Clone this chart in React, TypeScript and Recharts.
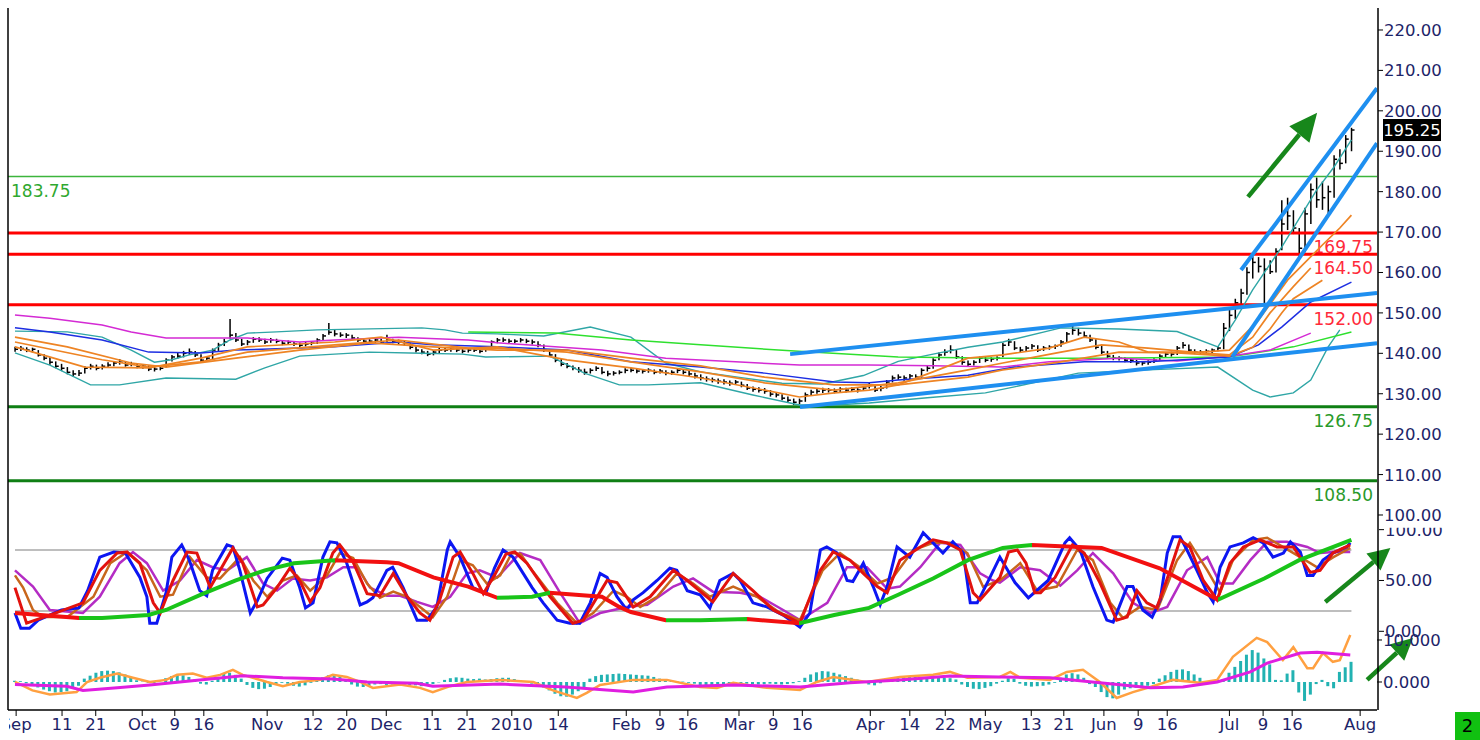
import React from 'react';
import { ComposedChart, Line, Bar, XAxis, YAxis, ReferenceLine } from 'recharts';

// daily bars, index 0 = first bar (early Sep), [high, low, close]
const ohlc: number[][] = [
  [141.6,140.4,141.0],[141.8,140.6,141.2],[141.5,140.3,140.8],[141.4,140.2,141.0],[140.8,139.2,139.6],
  [139.8,138.3,138.8],[139.0,137.2,137.8],[138.0,136.3,136.8],[137.4,135.6,136.3],[136.6,134.8,135.3],
  [135.8,134.2,134.9],[135.9,134.4,135.1],[136.8,135.0,136.3],[137.4,136.0,136.8],[137.2,135.8,136.3],
  [137.3,136.0,136.8],[137.8,136.5,137.1],[138.0,136.8,137.6],[138.6,137.2,137.8],[138.0,136.7,137.1],
  [137.9,136.8,137.3],[137.6,136.3,136.8],[137.3,136.2,136.8],[137.0,135.6,136.1],[136.6,135.5,136.1],
  [137.0,135.8,136.3],[138.8,136.5,138.3],[139.6,138.0,139.1],[140.1,138.7,139.3],[140.6,139.0,140.0],
  [141.2,139.6,140.3],[140.6,139.1,139.6],[139.8,137.8,138.3],[139.3,137.9,138.8],[141.2,138.6,140.8],
  [142.6,140.6,142.0],[143.6,141.8,142.8],[148.5,143.6,144.5],[145.0,142.8,143.3],[143.6,141.8,142.3],
  [143.3,142.0,142.8],[144.0,142.6,143.5],[144.0,142.8,143.3],[143.6,142.3,142.8],[143.8,142.6,143.3],
  [143.6,142.5,143.0],[143.3,142.0,142.5],[143.2,142.2,142.8],[143.0,141.8,142.3],[142.7,141.5,142.0],
  [142.8,141.7,142.3],[143.0,142.0,142.5],[143.7,142.3,143.3],[144.8,143.2,144.3],[147.5,144.6,145.2],
  [146.0,144.2,144.8],[145.2,144.0,144.5],[145.0,143.8,144.5],[144.6,143.3,143.8],[144.0,142.8,143.3],
  [143.6,142.5,143.0],[143.5,142.4,143.0],[143.8,142.6,143.3],[143.6,142.3,142.8],[144.6,142.8,143.3],
  [143.6,142.5,143.0],[143.4,142.2,142.8],[143.2,141.9,142.5],[142.6,141.0,141.5],[141.7,140.2,140.8],
  [141.0,139.8,140.3],[140.6,139.3,139.8],[140.8,139.5,140.3],[141.3,140.0,140.8],[141.5,140.3,140.8],
  [141.5,140.4,141.0],[141.4,140.3,140.8],[141.1,140.0,140.5],[141.3,140.2,140.8],[141.2,140.3,140.8],
  [141.2,140.0,140.5],[141.8,140.4,141.3],[143.2,141.2,142.8],[143.8,142.5,143.3],[143.9,142.8,143.3],
  [143.6,142.4,143.0],[143.5,142.5,143.0],[143.8,142.7,143.3],[143.6,142.5,143.0],[143.4,142.2,142.8],
  [143.0,141.5,142.0],[142.2,140.3,140.8],[141.0,139.1,139.6],[139.8,137.8,138.3],[138.6,136.8,137.3],
  [137.6,136.3,136.8],[137.0,135.8,136.3],[136.6,135.2,135.8],[136.2,134.7,135.3],[136.3,135.0,135.8],
  [136.8,135.6,136.3],[136.6,134.8,135.3],[135.7,134.3,134.9],[135.6,134.5,135.1],[135.8,134.8,135.3],
  [136.3,135.1,135.8],[136.4,135.3,135.8],[136.1,135.1,135.6],[136.0,135.0,135.6],[136.3,135.2,135.8],
  [136.0,134.8,135.3],[136.1,135.0,135.6],[135.8,134.6,135.1],[135.8,134.7,135.3],[136.3,135.1,135.8],
  [136.0,134.8,135.3],[135.6,134.3,134.9],[135.2,133.8,134.4],[134.8,133.3,133.9],[134.3,133.0,133.6],
  [134.0,132.8,133.4],[133.8,132.5,133.1],[133.6,132.3,132.9],[133.3,132.0,132.6],[133.4,132.2,132.9],
  [133.0,131.6,132.1],[132.4,130.9,131.4],[131.8,130.5,131.1],[131.6,130.3,130.9],[131.4,130.0,130.6],
  [130.9,129.3,129.9],[130.4,129.1,129.7],[129.9,128.4,128.9],[129.3,127.8,128.4],[128.8,127.2,127.9],
  [128.8,127.4,128.2],[130.3,128.0,129.7],[131.0,129.5,130.4],[131.3,130.0,130.6],[131.5,130.2,130.9],
  [131.4,130.3,130.9],[131.3,130.1,130.6],[131.6,130.4,131.1],[131.5,130.3,130.9],[131.6,130.5,131.1],
  [131.4,130.3,130.9],[131.9,130.7,131.4],[132.7,131.3,132.1],[132.2,130.4,130.9],[131.9,130.6,131.4],
  [133.4,131.3,132.9],[134.5,132.8,133.9],[134.8,133.4,134.1],[134.5,133.2,133.9],[134.9,133.6,134.4],
  [134.8,133.6,134.1],[136.3,134.0,135.8],[137.0,135.5,136.3],[138.8,136.2,138.3],[140.2,138.3,139.6],
  [141.0,139.4,140.3],[142.0,140.0,140.8],[140.8,138.6,139.1],[139.3,137.2,137.8],[138.2,136.8,137.3],
  [138.3,137.0,137.8],[139.2,137.6,138.8],[139.1,137.8,138.3],[139.0,137.9,138.6],[139.3,138.2,138.8],
  [142.6,139.0,142.0],[143.6,141.8,142.8],[143.0,140.8,141.3],[141.6,140.2,140.8],[141.8,140.5,141.3],
  [142.3,141.0,141.8],[142.0,140.3,140.8],[141.8,140.6,141.3],[142.0,140.9,141.5],[142.2,141.1,141.8],
  [143.3,141.6,142.8],[145.3,142.6,144.8],[146.8,144.6,145.7],[146.3,144.4,145.0],[145.4,143.8,144.3],
  [144.6,142.8,143.3],[143.5,141.0,141.5],[141.8,139.8,140.3],[140.6,138.8,139.3],[139.6,138.3,138.8],
  [139.3,138.2,138.8],[139.0,137.8,138.3],[138.8,137.6,138.3],[138.4,137.0,137.6],[138.1,137.0,137.6],
  [138.3,137.2,137.8],[138.8,137.6,138.3],[139.8,138.2,139.3],[140.3,139.1,139.8],[140.4,139.2,139.8],
  [141.8,139.6,141.3],[142.8,141.2,142.0],[142.2,140.3,140.8],[141.0,139.8,140.3],[140.8,139.7,140.3],
  [141.0,139.9,140.5],[141.2,140.1,140.8],[141.8,140.5,141.3],
  [147.5,141.0,146.2],[151.0,145.5,149.4],[153.5,148.5,152.5],[156.0,151.0,154.9],[161.3,154.5,160.0],
  [164.0,158.5,162.5],[163.8,160.0,161.5],[163.5,152.4,160.8],[163.0,159.6,160.2],[166.0,160.0,165.2],
  [177.9,165.5,172.0],[178.5,170.5,174.0],[175.4,169.5,171.0],[171.0,163.5,166.0],[176.0,165.0,174.5],
  [182.0,172.0,180.5],[183.5,176.0,178.0],[182.5,175.5,178.5],[181.5,174.0,180.0],[189.0,178.5,188.0],
  [190.5,185.5,187.0],[194.0,187.0,193.0],[195.8,190.0,195.25],
];

const macdHist = [
  0.3,0.2,-0.3,
  -0.8,-1.3,-1.8,-2.2,-2.5,-2.4,-2.2,-1.6,-0.9,
  0.8,1.5,2.2,2.6,2.7,2.6,2.3,1.8,1.2,
  0.4,0.1,-0.2,-0.3,0.1,
  0.9,1.4,1.7,1.6,1.2,0.6,
  -0.4,-0.6,0.3,
  1.2,1.9,2.2,1.7,0.8,
  -0.7,-1.4,-1.7,-1.6,-1.2,-0.6,-0.2,-0.4,
  -0.9,-1.1,-0.8,-0.2,0.5,
  1.1,1.6,1.7,1.3,0.6,
  -0.6,-1.1,-1.2,-0.9,-0.6,
  -0.5,-0.7,-0.6,-0.8,-0.9,-0.7,-0.8,-1.0,-0.8,-0.5,-0.1,
  0.5,0.9,1.1,1.0,0.8,0.7,0.8,0.6,0.7,0.9,
  1.0,1.0,0.7,0.4,0.1,
  -0.4,-0.7,-1.3,-2.0,-2.8,-3.4,-3.5,-3.0,-2.2,-1.4,
  0.8,1.4,1.7,1.8,1.9,2.0,1.9,1.8,1.7,1.6,1.5,1.2,0.8,0.4,
  0.3,0.2,0.1,-0.2,-0.4,
  -0.7,-0.9,-0.8,-0.6,-0.5,-0.6,-0.5,
  -0.5,-0.4,-0.5,-0.6,-0.5,-0.4,-0.5,-0.6,-0.5,-0.3,0.2,
  1.0,1.8,2.3,2.6,2.5,2.2,1.8,1.4,1.0,0.6,0.2,
  -0.6,-0.8,-0.3,
  0.8,1.0,1.1,1.2,1.3,1.2,1.1,1.2,1.3,1.2,1.0,0.9,0.6,
  -0.6,-1.2,-1.6,-1.7,-1.4,-1.0,-0.4,0.3,
  0.9,0.8,
  -0.4,-0.9,-1.1,-1.0,-0.9,-0.6,-0.2,
  1.0,1.8,2.1,1.8,1.0,
  -0.5,-1.2,-2.4,-3.6,-3.9,-3.0,
  -1.8,-1.5,-1.4,-1.2,-0.9,-0.5,
  0.8,1.6,2.4,2.9,3.0,2.6,1.8,1.0,
  0.2,-0.3,-0.2,0.6,
  2.2,3.6,5.0,6.5,7.6,7.0,5.6,4.2,
  0.5,0.4,
  2.0,2.8,
  -2.5,-4.5,-3.0,-0.5,
  0.5,
  -1.0,-1.5,
  2.4,3.5,4.8,
];

// indicator lines, [bar index, value]
const bbUpper = [[0,145.5],[9,145.3],[15,144.0],[20,140.8],[24,137.8],[27,138.4],[30,139.6],[34,140.8],[37,143.3],[40,145.0],[45,145.3],[52,145.8],[70,146.3],[74,145.8],[77,145.0],[83,144.8],[91,144.3],[99,146.5],[106,144.0],[112,137.6],[118,135.4],[125,134.0],[132,132.6],[139,132.4],[146,134.5],[152,138.0],[158,139.8],[164,141.5],[170,142.8],[180,146.3],[190,146.0],[200,145.4],[207,141.6],[210,148.2],[213,155.7],[218,166.3],[224,180.4],[227,186.1],[230,192.8]];
const bbLower = [[0,140.1],[6,137.1],[13,132.2],[18,132.2],[26,133.9],[38,133.6],[43,136.4],[49,139.3],[61,140.3],[70,140.0],[77,139.8],[81,139.1],[92,139.3],[98,135.1],[104,132.2],[109,132.2],[118,132.7],[127,129.7],[135,127.2],[141,127.2],[147,127.7],[157,129.0],[167,130.2],[172,131.7],[183,135.1],[195,135.9],[207,136.6],[213,130.9],[216,129.2],[220,130.2],[223,133.4],[226,141.6],[228,145.8]];
const maFast = [[0,141.6],[12,136.6],[23,136.4],[32,138.8],[40,141.6],[55,142.8],[63,144.0],[72,140.8],[83,141.6],[95,138.4],[106,136.4],[118,133.9],[129,130.9],[135,129.2],[141,130.2],[147,130.9],[152,132.2],[158,135.4],[164,138.8],[170,139.6],[178,141.3],[184,144.0],[190,142.8],[195,140.3],[204,140.3],[209,140.8],[214,148.2],[219,158.1],[225,166.8],[228,171.0],[230,174.2]];
const maMid = [[0,142.8],[15,138.4],[23,136.6],[32,137.9],[40,140.3],[55,142.1],[66,143.3],[78,141.3],[83,141.3],[95,140.3],[106,137.9],[118,135.4],[129,132.7],[141,130.9],[152,132.7],[164,135.9],[170,137.6],[180,140.3],[187,142.1],[195,141.3],[204,140.1],[209,139.6],[213,144.0],[216,150.0],[220,156.5],[223,161.1]];
const maSlow = [[0,144.0],[9,141.6],[20,137.6],[26,136.6],[38,138.8],[49,140.8],[61,142.6],[72,141.6],[83,140.8],[95,140.8],[106,138.8],[118,136.9],[129,134.1],[141,132.2],[152,132.2],[164,134.1],[170,135.9],[180,137.9],[190,140.3],[200,140.1],[209,139.3],[213,141.5],[216,146.0],[218,150.0],[220,153.5],[225,158.1]];
const maBlue = [[0,146.3],[6,145.3],[15,143.3],[23,140.3],[32,140.1],[38,140.8],[49,141.3],[55,141.6],[66,142.8],[72,142.1],[83,141.6],[95,140.8],[106,137.9],[118,136.6],[129,135.1],[141,132.9],[147,132.7],[152,133.4],[164,134.6],[172,136.6],[184,137.9],[195,137.9],[209,139.1],[214,142.1],[218,146.5],[223,152.7],[230,157.6]];
const maMagenta = [[0,149.5],[6,148.7],[15,147.0],[20,145.3],[26,143.8],[40,143.8],[49,142.8],[55,143.3],[66,144.0],[78,143.3],[83,142.6],[101,140.8],[112,138.8],[124,137.9],[135,137.1],[147,137.1],[158,136.9],[170,136.6],[178,137.9],[190,138.8],[200,138.1],[209,139.3],[216,140.8],[223,145.0]];
const maGreen = [[78,145.3],[93,145.0],[106,143.3],[118,142.1],[137,140.3],[152,139.1],[170,138.8],[187,138.8],[209,139.1],[220,141.6],[230,145.3]];

const stochBlue = [[0,18],[1,3],[2.5,3],[4,11],[8,21],[11,23],[12.5,40],[14.6,73],[17,78],[19,77],[21.5,53],[22.7,34],[23.2,8],[24.4,8],[26,38],[27,73],[28.7,85],[30,70],[31.8,40],[33,35],[34,60],[36.5,85],[37.5,83],[38.7,60],[40.5,18],[41.7,30],[43.4,52],[46,72],[47.3,70],[49,43],[50,23],[51.3,28],[53,73],[54.2,88],[55.4,87],[57.1,67],[59.4,26],[60.6,29],[61.6,33],[64,60],[65,63],[66.8,43],[69.2,11],[70.9,11],[72.6,24],[74.4,80],[74.9,88],[76.6,73],[78.8,43],[81,37],[82.5,62],[84,80],[85.7,73],[89,43],[90.9,28],[93.3,11],[95.5,8],[97.2,8],[99,28],[100.7,57],[101.9,53],[103.6,34],[105.3,21],[106.4,31],[108.1,38],[110.5,50],[112.7,62],[113.9,60],[115.7,40],[117.9,36],[119.6,23],[121.3,50],[123.6,57],[124.8,50],[127,28],[129.4,24],[132.2,16],[135.1,4],[136.8,18],[138.6,80],[139.7,83],[141.5,77],[143.2,50],[144.2,49],[146,67],[147.7,44],[148.9,26],[150.1,44],[151.8,83],[154,73],[156.3,97],[158,87],[159.7,77],[161.4,88],[163.2,77],[164.4,28],[165.6,28],[167.8,53],[169.5,73],[172.1,48],[174.4,33],[177.8,50],[180.7,87],[181.5,92],[183.3,80],[185.5,44],[187.9,11],[189,9],[191.4,44],[192.4,44],[194.1,21],[195.7,14],[197.1,31],[198.3,77],[199.3,93],[200.5,93],[201.7,80],[203.4,60],[205.2,38],[206.2,29],[207.4,63],[209.1,83],[211.4,87],[213.1,92],[214.8,87],[216.5,73],[218.3,77],[219.5,88],[221.2,78],[222.4,55],[223.4,55],[225.1,70],[226.8,77],[229.2,83],[229.8,87]];
const stochRed = [[0,43],[2,8],[6,16],[11.7,28],[14.6,60],[17.6,77],[19.3,78],[21.5,67],[23.8,28],[25,18],[27.2,50],[29.6,78],[31.3,77],[33.6,43],[35.3,60],[37.5,82],[39.2,67],[41.7,24],[42.7,26],[45.1,43],[47.3,62],[49,50],[50.8,29],[52.5,43],[54.7,77],[55.9,85],[58.2,68],[60.6,37],[62.8,35],[65.1,57],[67.5,34],[69.7,18],[71.4,11],[73.1,31],[75.4,73],[76.6,78],[78.8,57],[80.6,37],[82.5,55],[84.5,76],[86,78],[88.1,67],[92.1,34],[96,8],[97.8,11],[101.9,50],[103.6,48],[106.4,24],[109.3,34],[113.3,60],[115.7,50],[120.1,29],[123.6,57],[127,40],[130.5,21],[135.1,8],[138.6,60],[140.8,78],[143.7,70],[146,57],[148.4,44],[150.1,38],[152.3,70],[155.8,83],[158,90],[160.4,87],[162.7,80],[164.9,38],[166.1,31],[169.5,53],[171,78],[172.5,80],[174,67],[175.5,38],[176.5,38],[179,53],[182,85],[184,77],[186.7,48],[189.6,11],[191.4,14],[193.1,40],[194.8,28],[196.5,23],[198.8,60],[200.5,90],[202.2,83],[204.5,50],[206.9,31],[209.1,67],[211.4,83],[214.3,90],[217.2,83],[220,83],[222.9,58],[224.6,60],[226.8,77],[229.8,85]];
const stochOrange = [[0,55],[1.4,43],[3.1,21],[4.8,14],[9,14],[13.5,34],[16.4,67],[19.3,78],[22.7,60],[25,34],[27.2,36],[30.1,73],[33,53],[35.3,52],[38.7,73],[41,50],[43.4,34],[46.1,50],[48.5,55],[50.8,40],[53.7,55],[55.9,77],[58.2,72],[60.6,47],[62.8,33],[65.1,39],[67.5,34],[69.7,24],[71.9,14],[74.4,34],[76.6,70],[78.8,65],[81.2,47],[83.5,55],[85.5,77],[87,76],[89,60],[93.3,28],[96.7,8],[99.5,18],[103,40],[105.3,34],[107.6,24],[110.5,34],[113.9,57],[116.7,47],[119.6,34],[123.6,44],[127.7,34],[131.7,18],[135.1,11],[139,60],[142,77],[145.4,63],[148.4,47],[151.1,53],[154.6,80],[158,87],[160.9,87],[163.9,77],[166.6,44],[169.5,50],[173,67],[175.9,40],[179.3,44],[182.8,80],[185.5,70],[188.5,28],[190.7,13],[193.6,24],[196.6,21],[200,70],[202.2,87],[205.2,60],[207.4,38],[209.6,70],[213.1,90],[215.5,92],[218.2,83],[221.2,73],[224.1,63],[226.9,73],[229.8,82]];
const stochMagenta = [[0,60],[3.1,44],[6,21],[11.7,18],[14.6,34],[18,67],[20.3,78],[22.7,67],[25.5,40],[28.4,50],[31.3,70],[34,63],[36.5,60],[39.9,73],[42.7,47],[45.1,40],[47.8,52],[50.8,50],[53.7,53],[56.5,63],[58.9,63],[61.1,43],[64,35],[66.3,35],[69.2,29],[71.9,24],[74.9,34],[77.8,57],[80,60],[83,53],[86.9,77],[90.4,70],[93.8,38],[97.2,8],[100.7,18],[105.3,24],[108.8,26],[113.3,44],[116.7,52],[120.1,39],[124.8,38],[128.2,34],[132.2,21],[135.1,11],[139.8,28],[143.2,63],[146.6,63],[150.1,42],[152.3,44],[155.8,63],[159.2,87],[162.7,85],[166.1,57],[168.3,50],[169.5,48],[173,63],[176.4,60],[179.9,45],[182.8,60],[185.5,77],[189,57],[192.4,28],[195.4,18],[198.3,24],[201.7,60],[205.2,73],[207.4,47],[209.6,47],[212.6,70],[215.5,88],[218.9,88],[222.4,83],[224.6,77],[226.9,78],[229.8,78]];
const stochSlow = [[0,18],[11,13],[15,13],[23,16],[26,21],[32,36],[38,50],[43,60],[48,67],[55,70],[64,68],[66,67],[72,53],[78,44],[83,33],[89,34],[92,38],[101,34],[104,24],[106,19],[112,11],[118,11],[126,12],[135,8],[141,16],[147,23],[152,36],[158,52],[164,70],[170,82],[175,85],[187,82],[197,62],[207,31],[215,52],[221,70],[230,90]];

const macdLine = [[0,0],[3,-2],[6,-3],[10.6,-2.4],[12.4,0],[14.6,1],[17.6,2],[20.3,1],[23.2,0],[26,0.5],[27.9,1.7],[30.6,2],[33,1],[35.3,1.7],[37.5,2.9],[39.2,1.7],[43.4,0],[46.1,-1],[49,0],[52.5,0.5],[54.7,1.7],[57.1,1.2],[59.4,0],[61.6,-1.4],[66.3,-0.6],[69.7,-1.4],[71.9,-2.4],[74.9,-1],[77.8,0],[83.5,0.5],[89.2,0],[92.6,-2],[96.7,-3.8],[98.4,-2.6],[100.7,-0.7],[106.4,0.5],[112.2,0.5],[117.9,-1.2],[120.8,-1.4],[123.6,-0.2],[129.4,-1.4],[135.1,-1.9],[138,0],[140.8,1.2],[146.6,0],[152.3,1.2],[158,1.7],[160.9,2.4],[163.9,1],[169.5,1.2],[171.3,2.4],[173,1],[178.1,0.5],[181,2.4],[183.8,2.9],[186.7,0],[189.6,-3.8],[192.4,-2.4],[195.4,-1.2],[199.3,0.5],[203.9,-0.2],[206.9,0.5],[209.6,6],[213.7,10.5],[215.5,9.5],[218.2,5.2],[220,8.3],[222.4,3.3],[223.4,3.3],[225.1,6.9],[226.8,4.8],[228,5.2],[229.8,11.2]];
const macdSignal = [[0,-0.6],[8.9,-1],[11.7,-2],[17.6,-1.4],[23.2,-0.7],[31.8,0.5],[39.2,1.5],[46.1,1],[54.7,0.7],[60.6,0],[69.2,-0.3],[71.9,-1],[83.5,-0.5],[94.8,-1.2],[106.4,-2.4],[112.2,-1.2],[123.6,-0.7],[135.1,-1.2],[143.7,-0.2],[152.3,0.5],[160.9,1.4],[169.5,1.2],[178.1,1],[186.7,-0.2],[195.4,-1.4],[201,-1.2],[206.9,0],[212.6,2.4],[215.5,4.5],[221.2,6.9],[224.1,7.1],[229.8,6.4]];

// horizontal price levels
const levelThin = [183.75];
const levelRed = [169.75, 164.5, 152.0];
const levelGreen = [126.75, 108.5];
const lastPrice = 195.25;

// trend lines and arrows, [[x, y], [x, y]] in bar index / panel units
const trendLines = [
  [[211.0, 160.6], [234.4, 205.6]],
  [[209.5, 139.1], [234.4, 192.0]],
  [[133.4, 139.8], [234.4, 154.9]],
  [[135.1, 126.7], [234.4, 142.5]],
];
const arrowPrice = [[212.2, 178.7], [224.1, 199.5]];
const arrowStoch = [[225.5, 28.8], [236.7, 82.0]];
const arrowMacd = [[232.7, 0.5], [240.6, 10.5]];

const xTickIdx = [0.2, 8.1, 13.9, 21.9, 27.5, 32.5, 43.4, 51.3, 57.1, 63.9, 71.8, 77.8, 85.5, 93.5, 105.2, 111, 115.8, 124.6, 130.5, 135.5, 147.2, 154, 160.1, 167, 174.9, 180.5, 187.4, 193.3, 198.3, 209, 214.8, 219.8, 231.5];
const xTickLbl = ['Sep', '11', '21', 'Oct', '9', '16', 'Nov', '12', '20', 'Dec', '11', '21', '2010', '14', 'Feb', '9', '16', 'Mar', '9', '16', 'Apr', '14', '22', 'May', '13', '21', 'Jun', '9', '16', 'Jul', '9', '16', 'Aug'];
const priceTicks = [100, 110, 120, 130, 140, 150, 160, 170, 180, 190, 200, 210, 220];
const stochTicks = [0, 50, 100];
const macdTicks = [0, 10];
const stochBands = [80, 20];

const X_DOMAIN: [number, number] = [-1.2, 234.4];
const FONT = '"DejaVu Sans", Verdana, sans-serif';
const NAVY = '#1d2468';

const bars = ohlc.map((r, i) => ({ x: i, h: r[0], l: r[1], c: r[2], hist: macdHist[i] }));
const pts = (a: number[][]) => a.map(([x, v]) => ({ x, v }));
const seg = (a: number[][]) => a.map(([x, y]) => ({ x, y }));

const OhlcShape = (p: any) => {
  const { x, y, width, height, payload } = p;
  if (height == null) return null;
  const cx = x + width / 2;
  const top = Math.min(y, y + height);
  const hh = Math.abs(height);
  const cy = top + ((payload.h - payload.c) / (payload.h - payload.l)) * hh;
  return (
    <g>
      <line x1={cx} y1={top} x2={cx} y2={top + hh} stroke="#000" strokeWidth={1.5} />
      <line x1={cx} y1={cy} x2={cx + 3} y2={cy} stroke="#000" strokeWidth={1.5} />
    </g>
  );
};

const arrowShape = (len: number, half: number) => (p: any) => {
  const { x1, y1, x2, y2 } = p;
  const a = Math.atan2(y2 - y1, x2 - x1);
  const bx = x2 - len * Math.cos(a);
  const by = y2 - len * Math.sin(a);
  const nx = -Math.sin(a) * half;
  const ny = Math.cos(a) * half;
  return (
    <g>
      <line x1={x1} y1={y1} x2={bx} y2={by} stroke="#17871b" strokeWidth={4.5} />
      <polygon points={`${x2},${y2} ${bx + nx},${by + ny} ${bx - nx},${by - ny}`} fill="#17871b" />
    </g>
  );
};

const levelLabel = (text: string, color: string, left: boolean) => (p: any) => {
  const vb = p.viewBox;
  return (
    <text x={left ? vb.x + 3 : vb.x + vb.width - 4} y={vb.y + 14} dy="0.36em"
      textAnchor={left ? 'start' : 'end'} fill={color} fontSize={17} fontFamily={FONT}>{text}</text>
  );
};

const lastLabel = (p: any) => {
  const vb = p.viewBox;
  const x = vb.x + vb.width + 6;
  return (
    <g>
      <rect x={x} y={vb.y - 11} width={58} height={22} fill="#000" />
      <text x={x + 29} y={vb.y} dy="0.36em" textAnchor="middle" fill="#fff" fontSize={16.5} fontFamily={FONT}>{lastPrice.toFixed(2)}</text>
    </g>
  );
};

const XTick = (p: any) => {
  let k = xTickIdx.indexOf(p.payload.value);
  if (k < 0) k = p.index;
  return (
    <g clipPath="url(#xclip)">
      <text x={p.x} y={p.y} dy="0.75em" textAnchor="middle" fill={NAVY} fontSize={16.5} fontFamily={FONT}>{xTickLbl[k]}</text>
    </g>
  );
};

const yTick = (digits: number, clipValue?: number) => (p: any) => {
  const v = p.payload.value;
  const t = v.toFixed(digits);
  if (v === clipValue) {
    return (
      <svg x={p.x} y={p.y - 2} width={80} height={12} overflow="hidden">
        <text x={0} y={2} dy="0.36em" fill={NAVY} fontSize={16.5} fontFamily={FONT}>{t}</text>
      </svg>
    );
  }
  return <text x={p.x} y={p.y} dy="0.36em" fill={NAVY} fontSize={16.5} fontFamily={FONT}>{t}</text>;
};

// slow stochastic: green on rising segments, red on falling ones
const slowStops = (() => {
  const x0 = stochSlow[0][0];
  const span = stochSlow[stochSlow.length - 1][0] - x0;
  const out: { o: number; c: string }[] = [];
  for (let k = 0; k < stochSlow.length - 1; k++) {
    const c = stochSlow[k + 1][1] >= stochSlow[k][1] ? '#19c419' : '#f21010';
    out.push({ o: (stochSlow[k][0] - x0) / span, c });
    out.push({ o: (stochSlow[k + 1][0] - x0) / span, c });
  }
  return out;
})();

export default function App() {
  const lineProps = { xAxisId: 'x', dataKey: 'v', dot: false, activeDot: false, isAnimationActive: false, type: 'linear' as const };
  return (
    <div style={{ position: 'absolute', left: 0, top: 0, width: 1480, height: 740, background: '#fff' }}>
      <ComposedChart width={1480} height={740} data={bars} margin={{ top: 8, right: 100, bottom: 0, left: 8 }}>
        <defs>
          <clipPath id="xclip"><rect x={9} y={0} width={1480} height={740} /></clipPath>
          <linearGradient id="slowGrad" x1="0" y1="0" x2="1" y2="0">
            {slowStops.map((s, i) => <stop key={i} offset={s.o} stopColor={s.c} />)}
          </linearGradient>
        </defs>

        <XAxis xAxisId="x" dataKey="x" type="number" domain={X_DOMAIN} allowDataOverflow ticks={xTickIdx} interval={0}
          tick={<XTick />} tickSize={6} tickLine={{ stroke: '#000' }} axisLine={{ stroke: '#000', strokeWidth: 1.5 }} height={30} />
        <XAxis xAxisId="xb" dataKey="x" type="number" domain={X_DOMAIN} allowDataOverflow hide />
        <XAxis xAxisId="xh" dataKey="x" type="number" domain={X_DOMAIN} allowDataOverflow hide />

        <YAxis yAxisId="m" orientation="right" type="number" domain={[-6.67, 160.48]} allowDataOverflow width={1}
          ticks={macdTicks} interval={0} tick={yTick(3)} tickSize={5} tickMargin={1} tickLine={{ stroke: '#000' }} axisLine={false} />
        <YAxis yAxisId="s" orientation="right" type="number" domain={[-77.4, 613.1]} allowDataOverflow width={1}
          ticks={stochTicks} interval={0} tick={yTick(2, 100)} tickSize={5} tickMargin={1} tickLine={{ stroke: '#000' }} axisLine={false} />
        <YAxis yAxisId="p" orientation="right" type="number" domain={[51.75, 225.44]} allowDataOverflow width={1}
          ticks={priceTicks} interval={0} tick={yTick(2)} tickSize={5} tickMargin={1} tickLine={{ stroke: '#000' }}
          axisLine={{ stroke: '#000', strokeWidth: 1.5 }} />

        {levelThin.map((v) => (
          <ReferenceLine key={v} xAxisId="x" yAxisId="p" y={v} stroke="#3cb53c" strokeWidth={1.5} label={levelLabel(v.toFixed(2), '#2fa82f', true)} />
        ))}
        {levelRed.map((v) => (
          <ReferenceLine key={v} xAxisId="x" yAxisId="p" y={v} stroke="#ff0000" strokeWidth={3} label={levelLabel(v.toFixed(2), '#ff2a3a', false)} />
        ))}
        {levelGreen.map((v) => (
          <ReferenceLine key={v} xAxisId="x" yAxisId="p" y={v} stroke="#0f7f14" strokeWidth={3} label={levelLabel(v.toFixed(2), '#2a9a2a', false)} />
        ))}

        <Line {...lineProps} yAxisId="p" data={pts(bbUpper)} stroke="#2fa6a6" strokeWidth={1.4} />
        <Line {...lineProps} yAxisId="p" data={pts(bbLower)} stroke="#2fa6a6" strokeWidth={1.4} />
        <Line {...lineProps} yAxisId="p" data={pts(maGreen)} stroke="#2ee02e" strokeWidth={1.5} />
        <Line {...lineProps} yAxisId="p" data={pts(maMagenta)} stroke="#d42ad4" strokeWidth={1.5} />
        <Line {...lineProps} yAxisId="p" data={pts(maBlue)} stroke="#1d2ee2" strokeWidth={1.5} />
        <Line {...lineProps} yAxisId="p" data={pts(maSlow)} stroke="#ee8424" strokeWidth={1.7} />
        <Line {...lineProps} yAxisId="p" data={pts(maMid)} stroke="#ee8424" strokeWidth={1.7} />
        <Line {...lineProps} yAxisId="p" data={pts(maFast)} stroke="#ee8424" strokeWidth={1.7} />

        <Bar xAxisId="xb" yAxisId="p" dataKey={(d: any) => [d.l, d.h]} barSize={2} shape={OhlcShape} isAnimationActive={false} />

        {trendLines.map((s, i) => (
          <ReferenceLine key={i} xAxisId="x" yAxisId="p" segment={seg(s)} stroke="#1e8ff0" strokeWidth={4} ifOverflow="hidden" />
        ))}

        {stochBands.map((v) => (
          <ReferenceLine key={v} xAxisId="x" yAxisId="s" segment={[{ x: 0, y: v }, { x: 230, y: v }]} stroke="#a8a8a8" strokeWidth={1.5} />
        ))}
        <Line {...lineProps} yAxisId="s" data={pts(stochMagenta)} stroke="#b42cc4" strokeWidth={2.5} />
        <Line {...lineProps} yAxisId="s" data={pts(stochOrange)} stroke="#c8661c" strokeWidth={2.5} />
        <Line {...lineProps} yAxisId="s" data={pts(stochBlue)} stroke="#0c16f2" strokeWidth={3} />
        <Line {...lineProps} yAxisId="s" data={pts(stochRed)} stroke="#e2120e" strokeWidth={3} />
        <Line {...lineProps} yAxisId="s" data={pts(stochSlow)} stroke="url(#slowGrad)" strokeWidth={4} />

        <Bar xAxisId="xh" yAxisId="m" dataKey="hist" barSize={3} fill="#22b2b2" isAnimationActive={false} />
        <Line {...lineProps} yAxisId="m" data={pts(macdLine)} stroke="#ffa040" strokeWidth={2.5} />
        <Line {...lineProps} yAxisId="m" data={pts(macdSignal)} stroke="#e01ee0" strokeWidth={3} />

        <ReferenceLine xAxisId="x" yAxisId="p" segment={seg(arrowPrice)} ifOverflow="visible" shape={arrowShape(28, 13)} />
        <ReferenceLine xAxisId="x" yAxisId="s" segment={seg(arrowStoch)} ifOverflow="visible" shape={arrowShape(22, 11)} />
        <ReferenceLine xAxisId="x" yAxisId="m" segment={seg(arrowMacd)} ifOverflow="visible" shape={arrowShape(22, 11)} />
        <ReferenceLine xAxisId="x" yAxisId="p" y={lastPrice} stroke="none" ifOverflow="visible" label={lastLabel} />
        <ReferenceLine xAxisId="x" yAxisId="p" x={X_DOMAIN[0]} stroke="#000" strokeWidth={1.5} ifOverflow="visible" />
      </ComposedChart>
      <div style={{ position: 'absolute', left: 1455, top: 712, width: 25, height: 28, background: '#11c011',
        fontFamily: FONT, fontSize: 18, lineHeight: '28px', textAlign: 'center', color: '#000' }}>2</div>
    </div>
  );
}
